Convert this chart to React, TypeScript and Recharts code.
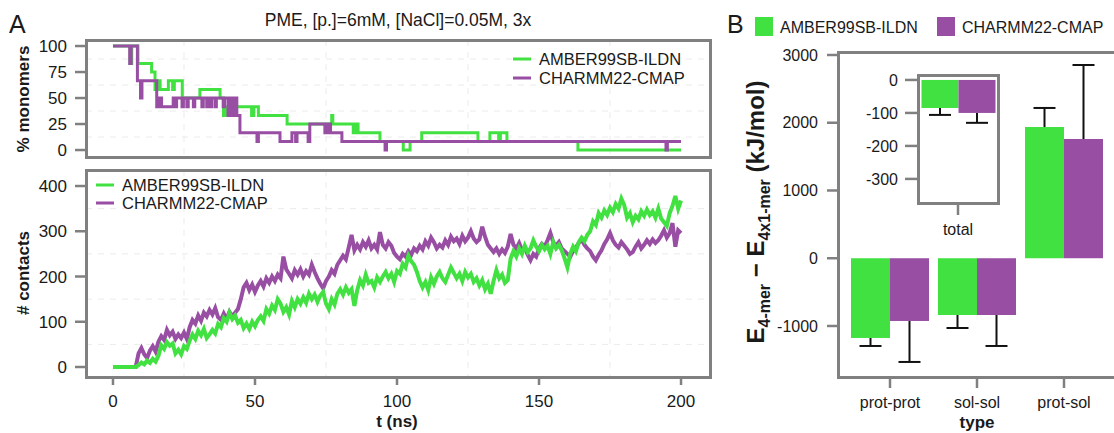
import React from "react"
import { LineChart, Line, XAxis, YAxis, CartesianGrid, BarChart, Bar } from "recharts"

const GREEN = "#42e142"
const PURPLE = "#984ea3"
const FRAME = "#808080"
const TEXT = "#1a1a1a"
const FONT = "'Liberation Sans', Arial, Helvetica, sans-serif"

const SERIES = ["AMBER99SB-ILDN", "CHARMM22-CMAP"]
const COLORS = [GREEN, PURPLE]

const AMBER_MONO_T = [0, 6.0, 6.6, 8.8, 13.6, 14.8, 16.0, 16.6, 19.5, 21.0, 21.6, 24.4, 30.6, 37.7, 38.9, 39.5, 40.2, 41.2, 48.8, 49.6, 51.2, 61.3, 77.0, 77.4, 84.6, 85.4, 86.3, 94.0, 102.2, 104.6, 108.7, 128.5, 132.7, 135.8, 136.4, 138.7, 163.7, 200]
const AMBER_MONO_PCT = [100, 83.3, 100, 83.3, 75, 58.3, 66.7, 58.3, 66.7, 58.3, 66.7, 50, 58.3, 50, 33.3, 41.7, 33.3, 41.7, 33.3, 41.7, 33.3, 25, 33.3, 25, 16.7, 25, 16.7, 8.3, 0, 8.3, 16.7, 8.3, 16.7, 8.3, 16.7, 8.3, 0, 0]
const CHARMM_MONO_T = [0, 5.9, 6.4, 8.6, 9.7, 10.2, 15.4, 16.2, 17.1, 21.2, 21.8, 22.4, 24.3, 24.8, 26.0, 26.5, 28.3, 28.8, 31.3, 31.8, 33.0, 33.5, 34.2, 34.7, 35.9, 36.4, 38.8, 39.3, 40.5, 41.0, 41.5, 42.0, 42.5, 43.0, 43.6, 44.7, 50.7, 51.2, 58.8, 63.0, 64.3, 64.8, 68.7, 69.3, 74.6, 75.1, 75.6, 76.1, 76.6, 80.6, 95.8, 96.3, 194.7, 195.2, 200]
const CHARMM_MONO_PCT = [100, 83.3, 100, 66.7, 50, 66.7, 41.7, 50, 41.7, 50, 41.7, 50, 41.7, 50, 41.7, 50, 41.7, 50, 41.7, 50, 41.7, 50, 41.7, 50, 41.7, 50, 41.7, 50, 33.3, 50, 33.3, 50, 33.3, 50, 33.3, 16.7, 8.3, 16.7, 8.3, 16.7, 8.3, 16.7, 8.3, 25, 16.7, 25, 16.7, 25, 16.7, 8.3, 0, 8.3, 0, 8.3, 8.3]

// # contacts, one value per ns
const CONTACT_T = Array.from({ length: 201 }, (_, i) => i)
const AMBER_CONTACTS = [
  0, 0, 0, 0, 0, 0, 0, 0, 0,
  4, 10, 6, 14, 9, 18, 12, 25, 48, 40, 55,
  47, 52, 30, 38, 28, 46, 40, 58, 72, 62,
  80, 70, 84, 64, 72, 82, 74, 95, 88, 108,
  100, 120, 106, 114, 98, 104, 86, 96, 84, 100,
  90, 104, 112, 102, 128, 118, 136, 126, 150, 140,
  122, 132, 116, 146, 132, 150, 140, 154, 142, 162,
  150, 160, 144, 158, 166, 140, 128, 150, 138, 162,
  172, 160, 176, 164, 172, 135, 170, 192, 180, 204,
  186, 190, 176, 198, 188, 200, 210, 196, 206, 188,
  212, 206, 228, 220, 246, 234, 226, 210, 190, 176,
  188, 170, 198, 184, 200, 210, 196, 188, 204, 220,
  208, 196, 206, 190, 210, 198, 206, 188, 196, 180,
  192, 172, 184, 162, 190, 214, 196, 204, 186, 192,
  240, 256, 244, 262, 250, 268, 254, 262, 280, 266,
  256, 270, 260, 268, 250, 276, 262, 270, 258, 240,
  220, 250, 266, 256, 276, 286, 278, 292, 300, 322,
  314, 340, 330, 346, 336, 352, 342, 360, 350, 372,
  358, 330, 340, 320, 334, 326, 344, 334, 348, 336,
  344, 330, 350, 328, 320, 312, 340, 356, 378, 350,
  368,
]
const CHARMM_CONTACTS = [
  0, 0, 0, 0, 0, 0, 0, 0, 0,
  30, 42, 28, 20, 36, 46, 34, 56, 68, 60, 82,
  70, 78, 62, 72, 64, 76, 62, 88, 104, 96,
  114, 102, 120, 112, 126, 116, 130, 110, 104, 118,
  106, 122, 112, 120, 128, 150, 176, 186, 170, 182,
  166, 180, 190, 178, 196, 186, 200, 190, 204, 196,
  244, 216, 206, 196, 214, 204, 216, 200, 212, 204,
  226, 210, 196, 184, 174, 190, 200, 214, 206, 226,
  236, 246, 238, 264, 292, 258, 270, 260, 276, 266,
  280, 262, 270, 260, 298, 270, 262, 276, 268, 252,
  244, 238, 250, 244, 256, 248, 262, 256, 268, 260,
  278, 268, 286, 276, 262, 270, 264, 280, 270, 288,
  278, 284, 272, 290, 278, 286, 300, 284, 276, 282,
  310, 288, 270, 262, 254, 262, 250, 260, 252, 266,
  294, 270, 262, 274, 258, 264, 248, 236, 250, 244,
  262, 272, 266, 280, 296, 276, 268, 276, 262, 256,
  250, 244, 256, 264, 274, 282, 270, 262, 256, 244,
  236, 248, 258, 272, 282, 296, 280, 270, 264, 276,
  268, 260, 250, 254, 266, 276, 262, 270, 280, 272,
  282, 274, 280, 290, 302, 286, 296, 318, 266, 302,
  296,
]

// energy differences (kJ/mol), error bars drawn away from zero
const ENERGY_TYPES = ["prot-prot", "sol-sol", "prot-sol"]
const AMBER_ENERGY = [-1177, -838, 1937]
const AMBER_ENERGY_ERR = [118, 192, 281]
const CHARMM_ENERGY = [-926, -838, 1760]
const CHARMM_ENERGY_ERR = [605, 457, 1092]

const TOTAL_TYPES = ["total"]
const AMBER_TOTAL = [-85]
const AMBER_TOTAL_ERR = [21]
const CHARMM_TOTAL = [-100]
const CHARMM_TOTAL_ERR = [30]

const monoAmber = AMBER_MONO_T.map((t, i) => ({ t, v: AMBER_MONO_PCT[i] }))
const monoCharmm = CHARMM_MONO_T.map((t, i) => ({ t, v: CHARMM_MONO_PCT[i] }))
const contactRows = CONTACT_T.map((t, i) => ({ t, amber: AMBER_CONTACTS[i], charmm: CHARMM_CONTACTS[i] }))
const energyRows = ENERGY_TYPES.map((type, i) => ({
  type,
  amber: AMBER_ENERGY[i],
  amberErr: AMBER_ENERGY_ERR[i],
  charmm: CHARMM_ENERGY[i],
  charmmErr: CHARMM_ENERGY_ERR[i],
}))
const totalRows = TOTAL_TYPES.map((type, i) => ({
  type,
  amber: AMBER_TOTAL[i],
  amberErr: AMBER_TOTAL_ERR[i],
  charmm: CHARMM_TOTAL[i],
  charmmErr: CHARMM_TOTAL_ERR[i],
}))

const leftTick = { fontSize: 17, fill: TEXT, fontFamily: FONT }
const rightTick = { fontSize: 16, fill: TEXT, fontFamily: FONT }
const tickLine = { stroke: FRAME, strokeWidth: 2.5 }

// bar + one-sided error bar (pixel length taken from the bar's own scale)
function makeBarShape(valueKey: string, errKey: string, cap: number) {
  return (props: any) => {
    const { x, y, width, height, fill, payload } = props
    const top = Math.min(y, y + height)
    const h = Math.abs(height)
    const value = payload[valueKey]
    const err = payload[errKey]
    const pxPerUnit = h / Math.abs(value)
    const cx = x + width / 2
    const start = value < 0 ? top + h : top
    const end = value < 0 ? start + err * pxPerUnit : start - err * pxPerUnit
    return (
      <g>
        <rect x={x} y={top} width={width} height={h} fill={fill} />
        <line x1={cx} x2={cx} y1={start} y2={end} stroke="#111" strokeWidth={2} />
        <line x1={cx - cap / 2} x2={cx + cap / 2} y1={end} y2={end} stroke="#111" strokeWidth={2} />
      </g>
    )
  }
}

function Frame({ left, top, width, height }: { left: number; top: number; width: number; height: number }) {
  return (
    <div
      style={{
        position: "absolute",
        left,
        top,
        width,
        height,
        border: `3px solid ${FRAME}`,
        boxSizing: "border-box",
        pointerEvents: "none",
      }}
    />
  )
}

function LineLegend({ x, y, rowHeight }: { x: number; y: number; rowHeight: number }) {
  return (
    <g>
      {SERIES.map((name, i) => (
        <g key={name}>
          <line x1={x} x2={x + 18} y1={y + i * rowHeight} y2={y + i * rowHeight} stroke={COLORS[i]} strokeWidth={3} />
          <text x={x + 26} y={y + i * rowHeight + 6} fontSize={16.5} fill={TEXT}>
            {name}
          </text>
        </g>
      ))}
    </g>
  )
}

export default function App() {
  return (
    <div
      style={{
        position: "absolute",
        left: 0,
        top: 0,
        width: 1114,
        height: 433,
        overflow: "hidden",
        background: "#fff",
        fontFamily: FONT,
      }}
    >
      {/* A: % monomers */}
      <div style={{ position: "absolute", left: 0, top: 0 }}>
        <LineChart width={760} height={165} margin={{ top: 40, right: 50, bottom: 8, left: 26 }}>
          <CartesianGrid
            horizontalValues={[12.5, 37.5, 62.5, 87.5]}
            verticalValues={[25, 75, 125, 175]}
            stroke="#ebebeb"
            strokeDasharray="6 6"
          />
          <XAxis type="number" dataKey="t" domain={[-9.5, 210.2]} hide allowDataOverflow />
          <YAxis
            type="number"
            domain={[-6.7, 105.8]}
            ticks={[0, 25, 50, 75, 100]}
            interval={0}
            width={60}
            axisLine={false}
            tickLine={tickLine}
            tickSize={11}
            tickMargin={8}
            tick={leftTick}
            allowDataOverflow
          />
          <Line data={monoAmber} dataKey="v" type="stepAfter" stroke={GREEN} strokeWidth={3} dot={false} isAnimationActive={false} />
          <Line data={monoCharmm} dataKey="v" type="stepAfter" stroke={PURPLE} strokeWidth={3} dot={false} isAnimationActive={false} />
        </LineChart>
      </div>

      {/* A: # contacts */}
      <div style={{ position: "absolute", left: 0, top: 160 }}>
        <LineChart width={760} height={273} data={contactRows} margin={{ top: 10, right: 50, bottom: 0, left: 26 }}>
          <CartesianGrid
            horizontalValues={[50, 150, 250, 350]}
            verticalValues={[25, 75, 125, 175]}
            stroke="#ebebeb"
            strokeDasharray="6 6"
          />
          <XAxis
            type="number"
            dataKey="t"
            domain={[-9.5, 210.2]}
            ticks={[0, 50, 100, 150, 200]}
            interval={0}
            height={56}
            axisLine={false}
            tickLine={tickLine}
            tickSize={8}
            tickMargin={10}
            tick={leftTick}
            allowDataOverflow
          />
          <YAxis
            type="number"
            domain={[-22.1, 435.4]}
            ticks={[0, 100, 200, 300, 400]}
            interval={0}
            width={60}
            axisLine={false}
            tickLine={tickLine}
            tickSize={11}
            tickMargin={8}
            tick={leftTick}
            allowDataOverflow
          />
          <Line dataKey="charmm" type="linear" stroke={PURPLE} strokeWidth={4} dot={false} isAnimationActive={false} />
          <Line dataKey="amber" type="linear" stroke={GREEN} strokeWidth={4} dot={false} isAnimationActive={false} />
        </LineChart>
      </div>

      {/* B: energies */}
      <div style={{ position: "absolute", left: 760, top: 0 }}>
        <BarChart
          width={400}
          height={433}
          data={energyRows}
          margin={{ top: 52, right: 44, bottom: 0, left: 8 }}
          barCategoryGap={4.5}
          barGap={0}
        >
          <XAxis
            dataKey="type"
            interval={0}
            height={56}
            axisLine={false}
            tickLine={tickLine}
            tickSize={11}
            tickMargin={9}
            tick={rightTick}
            padding={{ left: 8.5, right: 8.5 }}
          />
          <YAxis
            type="number"
            domain={[-1753, 3044]}
            ticks={[-1000, 0, 1000, 2000, 3000]}
            interval={0}
            width={70}
            axisLine={false}
            tickLine={tickLine}
            tickSize={11}
            tickMargin={9}
            tick={rightTick}
            allowDataOverflow
          />
          <Bar dataKey="amber" fill={GREEN} shape={makeBarShape("amber", "amberErr", 22)} isAnimationActive={false} />
          <Bar dataKey="charmm" fill={PURPLE} shape={makeBarShape("charmm", "charmmErr", 22)} isAnimationActive={false} />
        </BarChart>
      </div>

      {/* B inset: total */}
      <div style={{ position: "absolute", left: 850, top: 60 }}>
        <BarChart
          width={160}
          height={180}
          data={totalRows}
          margin={{ top: 15, right: 12, bottom: 0, left: 8 }}
          barCategoryGap={3.5}
          barGap={0}
        >
          <XAxis
            dataKey="type"
            interval={0}
            height={37}
            axisLine={false}
            tickLine={tickLine}
            tickSize={12}
            tickMargin={9}
            tick={rightTick}
          />
          <YAxis
            type="number"
            domain={[-373, 15]}
            ticks={[-300, -200, -100, 0]}
            interval={0}
            width={60}
            axisLine={false}
            tickLine={tickLine}
            tickSize={13}
            tickMargin={7}
            tick={rightTick}
            allowDataOverflow
          />
          <Bar dataKey="amber" fill={GREEN} shape={makeBarShape("amber", "amberErr", 22)} isAnimationActive={false} />
          <Bar dataKey="charmm" fill={PURPLE} shape={makeBarShape("charmm", "charmmErr", 22)} isAnimationActive={false} />
        </BarChart>
      </div>

      <Frame left={85} top={39} width={627} height={120} />
      <Frame left={85} top={169} width={627} height={210} />
      <Frame left={837} top={51} width={300} height={328} />
      <Frame left={917} top={74} width={83} height={131} />

      <svg
        width={1114}
        height={433}
        style={{ position: "absolute", left: 0, top: 0, pointerEvents: "none" }}
        fontFamily={FONT}
      >
        <text x={9} y={33} fontSize={25} fill={TEXT}>A</text>
        <text x={727} y={33} fontSize={25} fill={TEXT}>B</text>
        <text x={398} y={26} fontSize={17.5} fill={TEXT} textAnchor="middle">
          PME, [p.]=6mM, [NaCl]=0.05M, 3x
        </text>
        <text transform="translate(29,99) rotate(-90)" fontSize={17} fontWeight="bold" fill={TEXT} textAnchor="middle">
          % monomers
        </text>
        <text transform="translate(29,273) rotate(-90)" fontSize={17} fontWeight="bold" fill={TEXT} textAnchor="middle">
          # contacts
        </text>
        <text x={397} y={427} fontSize={17} fontWeight="bold" fill={TEXT} textAnchor="middle">
          t (ns)
        </text>
        <text x={977} y={428} fontSize={17} fontWeight="bold" fill={TEXT} textAnchor="middle">
          type
        </text>
        <text transform="translate(764,212) rotate(-90)" fontSize={24} fontWeight="bold" fill={TEXT} textAnchor="middle">
          E<tspan fontSize={16} dy={6}>4-mer</tspan>
          <tspan dy={-6}> − E</tspan>
          <tspan fontSize={16} dy={6}>4x1-mer</tspan>
          <tspan dy={-6}> (kJ/mol)</tspan>
        </text>

        <LineLegend x={513} y={59} rowHeight={19} />
        <LineLegend x={96} y={185} rowHeight={18} />

        {SERIES.map((name, i) => (
          <g key={name}>
            <rect x={[755, 937][i]} y={17} width={18} height={19} fill={COLORS[i]} />
            <text x={[780, 962][i]} y={33} fontSize={16} fill={TEXT}>
              {name}
            </text>
          </g>
        ))}
      </svg>
    </div>
  )
}
